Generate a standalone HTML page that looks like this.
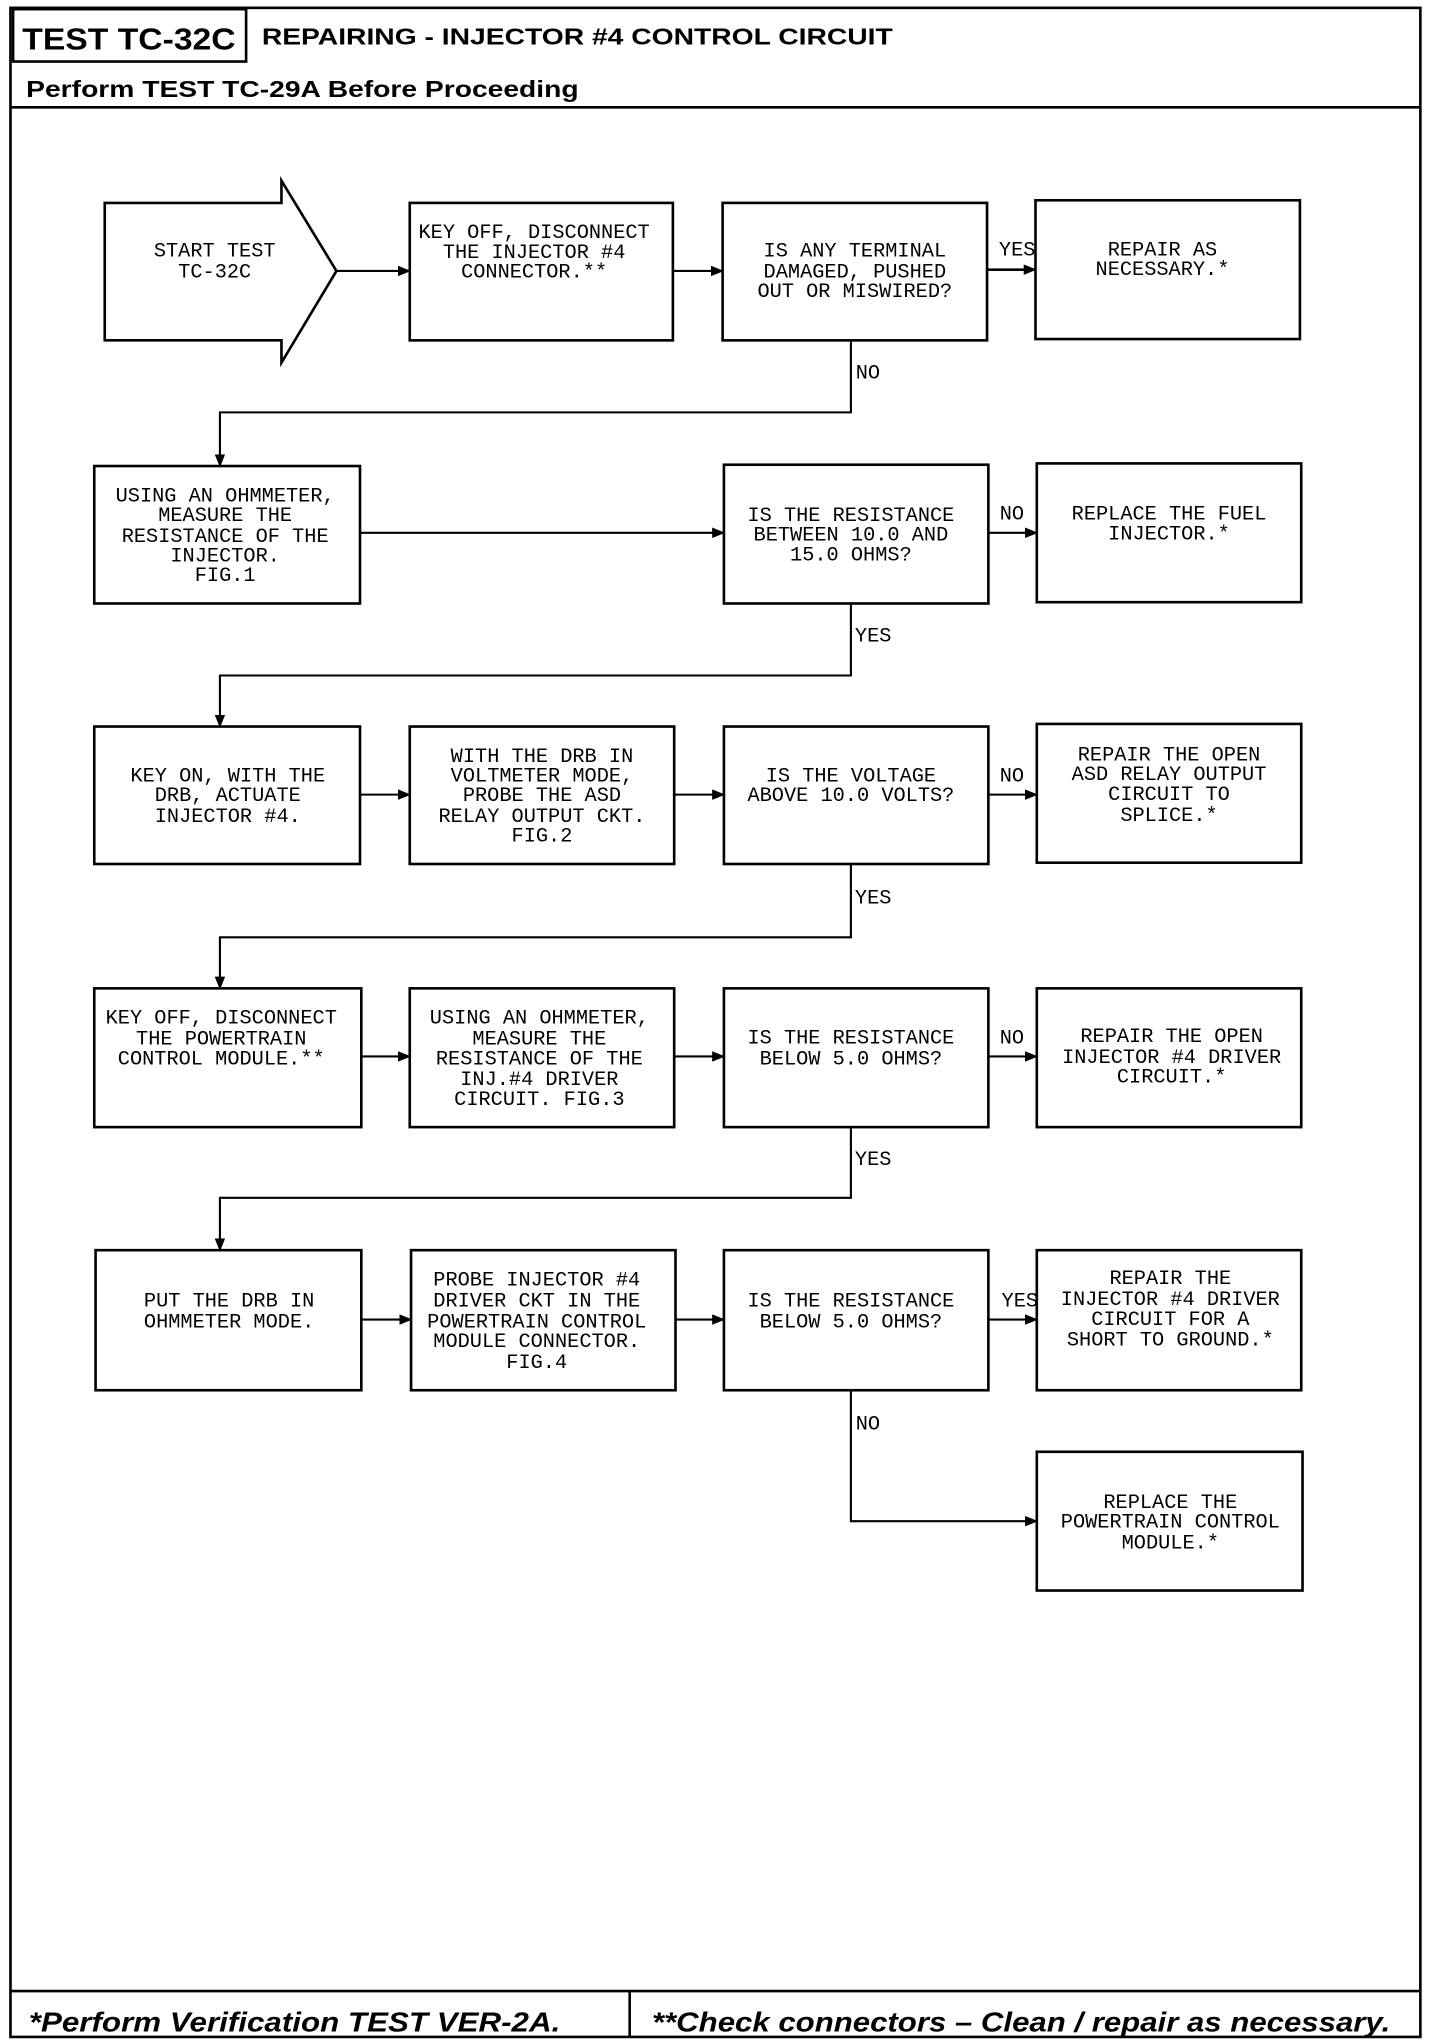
<!DOCTYPE html>
<html><head><meta charset="utf-8"><style>
html,body{margin:0;padding:0;background:#fff;}
svg{display:block}
.t{font-family:"Liberation Mono",monospace;font-size:15.5px;text-anchor:middle;fill:#000}
.h{font-family:"Liberation Sans",sans-serif;font-weight:bold;fill:#000}
.b{fill:none;stroke:#000;stroke-width:2}
.l{fill:none;stroke:#000;stroke-width:1.6}
</style></head><body>
<svg width="1440" height="2044" viewBox="0 0 1100 1561.4" xmlns="http://www.w3.org/2000/svg">
<defs><marker id="a" markerWidth="10" markerHeight="8" refX="9" refY="4" orient="auto" markerUnits="userSpaceOnUse"><path d="M0,0 L10,4 L0,8 z" fill="#000"/></marker></defs>
<rect x="0" y="0" width="1100" height="1562" fill="#fff"/>
<!-- frame -->
<rect x="8" y="6" width="1077" height="1550" class="b"/>
<line x1="8" y1="82" x2="1085" y2="82" class="b"/>
<rect x="10" y="7" width="178" height="40" class="b"/>
<line x1="8" y1="1521" x2="1085" y2="1521" class="b"/>
<line x1="481" y1="1521" x2="481" y2="1556" class="b"/>
<text class="h" x="17" y="38" font-size="23" textLength="163" lengthAdjust="spacingAndGlyphs">TEST TC-32C</text>
<text class="h" x="200" y="34" font-size="18" textLength="482" lengthAdjust="spacingAndGlyphs">REPAIRING - INJECTOR #4 CONTROL CIRCUIT</text>
<text class="h" x="20" y="74" font-size="18" textLength="422" lengthAdjust="spacingAndGlyphs">Perform TEST TC-29A Before Proceeding</text>
<text class="h" x="22" y="1552" font-size="21" font-style="italic" textLength="406" lengthAdjust="spacingAndGlyphs">*Perform Verification TEST VER-2A.</text>
<text class="h" x="498" y="1552" font-size="21" font-style="italic" textLength="564" lengthAdjust="spacingAndGlyphs">**Check connectors – Clean / repair as necessary.</text>

<!-- row1 -->
<path d="M80,155 H215 V138 L257,207 L215,277 V260 H80 Z" class="b"/>
<rect x="313" y="155" width="201" height="105" class="b"/>
<rect x="552" y="155" width="202" height="105" class="b"/>
<rect x="791" y="153" width="202" height="106" class="b"/>
<line x1="257" y1="207" x2="313" y2="207" class="l" marker-end="url(#a)"/>
<line x1="514" y1="207" x2="552" y2="207" class="l" marker-end="url(#a)"/>
<line x1="754" y1="206" x2="791" y2="206" class="b" marker-end="url(#a)"/>
<polyline points="650,260 650,315 168,315 168,356" class="l" marker-end="url(#a)"/>
<!-- row2 -->
<rect x="72" y="356" width="203" height="105" class="b"/>
<rect x="553" y="355" width="202" height="106" class="b"/>
<rect x="792" y="354" width="202" height="106" class="b"/>
<line x1="275" y1="407" x2="553" y2="407" class="l" marker-end="url(#a)"/>
<line x1="755" y1="407" x2="792" y2="407" class="l" marker-end="url(#a)"/>
<polyline points="650,461 650,516 168,516 168,555" class="l" marker-end="url(#a)"/>
<!-- row3 -->
<rect x="72" y="555" width="203" height="105" class="b"/>
<rect x="313" y="555" width="202" height="105" class="b"/>
<rect x="553" y="555" width="202" height="105" class="b"/>
<rect x="792" y="553" width="202" height="106" class="b"/>
<line x1="275" y1="607" x2="313" y2="607" class="l" marker-end="url(#a)"/>
<line x1="515" y1="607" x2="553" y2="607" class="l" marker-end="url(#a)"/>
<line x1="755" y1="607" x2="792" y2="607" class="l" marker-end="url(#a)"/>
<polyline points="650,660 650,716 168,716 168,755" class="l" marker-end="url(#a)"/>
<!-- row4 -->
<rect x="72" y="755" width="204" height="106" class="b"/>
<rect x="313" y="755" width="202" height="106" class="b"/>
<rect x="553" y="755" width="202" height="106" class="b"/>
<rect x="792" y="755" width="202" height="106" class="b"/>
<line x1="276" y1="807" x2="313" y2="807" class="l" marker-end="url(#a)"/>
<line x1="515" y1="807" x2="553" y2="807" class="l" marker-end="url(#a)"/>
<line x1="755" y1="807" x2="792" y2="807" class="l" marker-end="url(#a)"/>
<polyline points="650,861 650,915 168,915 168,955" class="l" marker-end="url(#a)"/>
<!-- row5 -->
<rect x="73" y="955" width="203" height="107" class="b"/>
<rect x="314" y="955" width="202" height="107" class="b"/>
<rect x="553" y="955" width="202" height="107" class="b"/>
<rect x="792" y="955" width="202" height="107" class="b"/>
<rect x="792" y="1109" width="203" height="106" class="b"/>
<line x1="276" y1="1008" x2="314" y2="1008" class="l" marker-end="url(#a)"/>
<line x1="516" y1="1008" x2="553" y2="1008" class="l" marker-end="url(#a)"/>
<line x1="755" y1="1008" x2="792" y2="1008" class="l" marker-end="url(#a)"/>
<polyline points="650,1062 650,1162 792,1162" class="l" marker-end="url(#a)"/>

<!-- labels -->
<g class="t">
<text x="777" y="195">YES</text>
<text x="663" y="289">NO</text>
<text x="773" y="397">NO</text>
<text x="667" y="490">YES</text>
<text x="773" y="597">NO</text>
<text x="667" y="690">YES</text>
<text x="773" y="797">NO</text>
<text x="667" y="890">YES</text>
<text x="779" y="998">YES</text>
<text x="663" y="1092">NO</text>

<text x="164" y="196">START TEST</text><text x="164" y="212">TC-32C</text>
<text x="408" y="182">KEY OFF, DISCONNECT</text><text x="408" y="197">THE INJECTOR #4</text><text x="408" y="212">CONNECTOR.**</text>
<text x="653" y="196">IS ANY TERMINAL</text><text x="653" y="212">DAMAGED, PUSHED</text><text x="653" y="227">OUT OR MISWIRED?</text>
<text x="888" y="195">REPAIR AS</text><text x="888" y="210">NECESSARY.*</text>

<text x="172" y="383">USING AN OHMMETER,</text><text x="172" y="398">MEASURE THE</text><text x="172" y="414">RESISTANCE OF THE</text><text x="172" y="429">INJECTOR.</text><text x="172" y="444">FIG.1</text>
<text x="650" y="398">IS THE RESISTANCE</text><text x="650" y="413">BETWEEN 10.0 AND</text><text x="650" y="428">15.0 OHMS?</text>
<text x="893" y="397">REPLACE THE FUEL</text><text x="893" y="412">INJECTOR.*</text>

<text x="174" y="597">KEY ON, WITH THE</text><text x="174" y="612">DRB, ACTUATE</text><text x="174" y="628">INJECTOR #4.</text>
<text x="414" y="582">WITH THE DRB IN</text><text x="414" y="597">VOLTMETER MODE,</text><text x="414" y="612">PROBE THE ASD</text><text x="414" y="628">RELAY OUTPUT CKT.</text><text x="414" y="643">FIG.2</text>
<text x="650" y="597">IS THE VOLTAGE</text><text x="650" y="612">ABOVE 10.0 VOLTS?</text>
<text x="893" y="581">REPAIR THE OPEN</text><text x="893" y="596">ASD RELAY OUTPUT</text><text x="893" y="611">CIRCUIT TO</text><text x="893" y="627">SPLICE.*</text>

<text x="169" y="782">KEY OFF, DISCONNECT</text><text x="169" y="798">THE POWERTRAIN</text><text x="169" y="813">CONTROL MODULE.**</text>
<text x="412" y="782">USING AN OHMMETER,</text><text x="412" y="798">MEASURE THE</text><text x="412" y="813">RESISTANCE OF THE</text><text x="412" y="829">INJ.#4 DRIVER</text><text x="412" y="844">CIRCUIT. FIG.3</text>
<text x="650" y="797">IS THE RESISTANCE</text><text x="650" y="813">BELOW 5.0 OHMS?</text>
<text x="895" y="796">REPAIR THE OPEN</text><text x="895" y="812">INJECTOR #4 DRIVER</text><text x="895" y="827">CIRCUIT.*</text>

<text x="175" y="998">PUT THE DRB IN</text><text x="175" y="1014">OHMMETER MODE.</text>
<text x="410" y="982">PROBE INJECTOR #4</text><text x="410" y="998">DRIVER CKT IN THE</text><text x="410" y="1014">POWERTRAIN CONTROL</text><text x="410" y="1029">MODULE CONNECTOR.</text><text x="410" y="1045">FIG.4</text>
<text x="650" y="998">IS THE RESISTANCE</text><text x="650" y="1014">BELOW 5.0 OHMS?</text>
<text x="894" y="981">REPAIR THE</text><text x="894" y="997">INJECTOR #4 DRIVER</text><text x="894" y="1012">CIRCUIT FOR A</text><text x="894" y="1028">SHORT TO GROUND.*</text>
<text x="894" y="1152">REPLACE THE</text><text x="894" y="1167">POWERTRAIN CONTROL</text><text x="894" y="1183">MODULE.*</text>
</g>
</svg>
</body></html>
